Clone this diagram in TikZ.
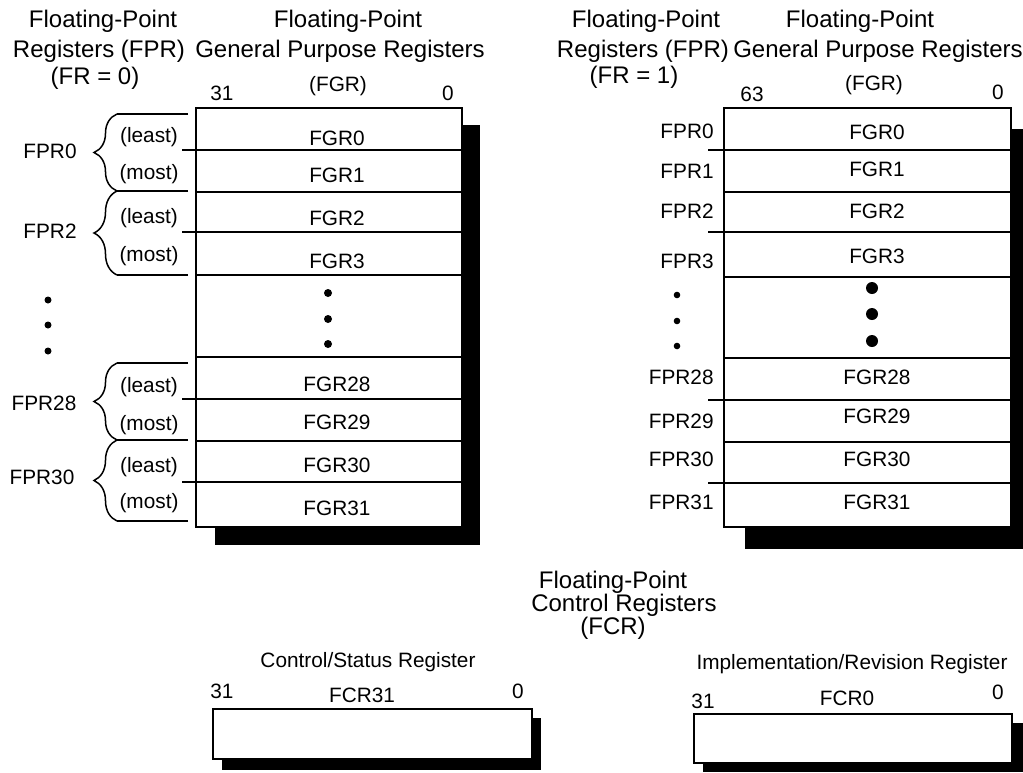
\documentclass[tikz,border=0pt]{standalone}
\usepackage{fontspec}
\setmainfont{Liberation Sans}
\usetikzlibrary{decorations.pathreplacing}
\definecolor{regink}{HTML}{000000}

\begin{document}
\begin{tikzpicture}[
  x=0.5pt,
  y=-0.5pt,
  every node/.style={font=\fontsize{10.4}{12}\selectfont, text=regink, inner sep=0pt},
  head/.style={font=\fontsize{12}{14}\selectfont},
  regline/.style={regink, line width=0.75pt},
  bracegroup/.style={regink, line width=0.75pt, decorate, decoration={brace, amplitude=11.5pt}}
]
  \useasboundingbox (0,0) rectangle (1023,772);

  \def\gprBoxA{(196,108) rectangle (462,527)}
  \def\gprBoxB{(724,108) rectangle (1011,527)}
  \def\fcrBoxA{(213,709) rectangle (532,759)}
  \def\fcrBoxB{(694,714) rectangle (1012,763)}

  % shadows first, boxes on top
  \fill[regink] (215,125) rectangle (480,545);
  \fill[regink] (745,129) rectangle (1023,549);
  \fill[regink] (222,718) rectangle (541,770);
  \fill[regink] (703,723) rectangle (1023,772);
  \draw[regline, fill=white] \gprBoxA;
  \draw[regline, fill=white] \gprBoxB;
  \draw[regline, fill=white] \fcrBoxA;
  \draw[regline, fill=white] \fcrBoxB;

  % FR = 0 side
  \foreach \y in {150,232,399,482} \draw[regline] (182,\y) -- (462,\y);
  \foreach \y in {192,275,357,441} \draw[regline] (196,\y) -- (462,\y);
  \foreach \y in {114,191,275,363,440,521} \draw[regline] (188,\y) -- (117,\y);
  \foreach \t/\b in {114/191, 191/275, 363/440, 440/521}
    \draw[bracegroup] (117,\b) -- (117,\t);

  \node[head] (hdFprA1) at (103,21) {Floating-Point};
  \node[head] (hdFprA2) at (99,51) {Registers (FPR)};
  \node[head] (hdFprA3) at (95,78) {(FR = 0)};
  \node[head] (hdFgrA1) at (348,21) {Floating-Point};
  \node[head] (hdFgrA2) at (340,51) {General Purpose Registers};
  \node (hdFgrA3) at (338,86) {(FGR)};
  \node (bitHiA) at (222,93) {31};
  \node (bitLoA) at (448,93) {0};

  \foreach \n/\y in {0/138, 1/175, 2/218, 3/261, 28/384, 29/422, 30/465, 31/508}
    \node (fgrA\n) at (337,\y) {FGR\n};
  \foreach \i/\w/\y in {a/least/137, b/most/174, c/least/218, d/most/256,
                        e/least/387, f/most/425, g/least/467, h/most/503}
    \node (half\i) at (149,\y) {(\w)};
  \node (fprA0) at (50,151) {FPR0};
  \node (fprA2) at (50,231) {FPR2};
  \node (fprA28) at (44,403) {FPR28};
  \node (fprA30) at (42,477) {FPR30};

  \foreach \y in {300,325,351} \fill[regink] (48,\y) circle[radius=1.75pt];
  \foreach \y in {293,319,344} \fill[regink] (328,\y) circle[radius=2pt];

  % FR = 1 side
  \foreach \y in {150,232,400,483} \draw[regline] (708,\y) -- (1011,\y);
  \foreach \y in {192,277,358,442} \draw[regline] (724,\y) -- (1011,\y);

  \node[head] (hdFprB1) at (646,21) {Floating-Point};
  \node[head] (hdFprB2) at (643,51) {Registers (FPR)};
  \node[head] (hdFprB3) at (634,77) {(FR = 1)};
  \node[head] (hdFgrB1) at (860,21) {Floating-Point};
  \node[head] (hdFgrB2) at (878,51) {General Purpose Registers};
  \node (hdFgrB3) at (874,85) {(FGR)};
  \node (bitHiB) at (752,94) {63};
  \node (bitLoB) at (998,92) {0};

  \foreach \n/\y in {0/132, 1/169, 2/211, 3/256, 28/377, 29/416, 30/459, 31/502}
    \node (fgrB\n) at (877,\y) {FGR\n};
  \foreach \n/\y in {0/131, 1/171, 2/211, 3/261, 28/377, 29/421, 30/459, 31/502}
    \node[anchor=east] (fprB\n) at (714,\y) {FPR\n};

  \foreach \y in {295,321,346} \fill[regink] (677,\y) circle[radius=1.65pt];
  \foreach \y in {288,314,341} \fill[regink] (872,\y) circle[radius=3pt];

  % control registers
  \node[head] (hdFcr1) at (613,582) {Floating-Point};
  \node[head] (hdFcr2) at (624,605) {Control Registers};
  \node[head] (hdFcr3) at (613,628) {(FCR)};

  \node (csrTitle) at (368,662) {Control/Status Register};
  \node (csrHi) at (222,691) {31};
  \node (csrName) at (362,695) {FCR31};
  \node (csrLo) at (518,691) {0};

  \node (irrTitle) at (852,664) {Implementation/Revision Register};
  \node (irrHi) at (703,701) {31};
  \node (irrName) at (847,698) {FCR0};
  \node (irrLo) at (998,692) {0};
\end{tikzpicture}
\end{document}
